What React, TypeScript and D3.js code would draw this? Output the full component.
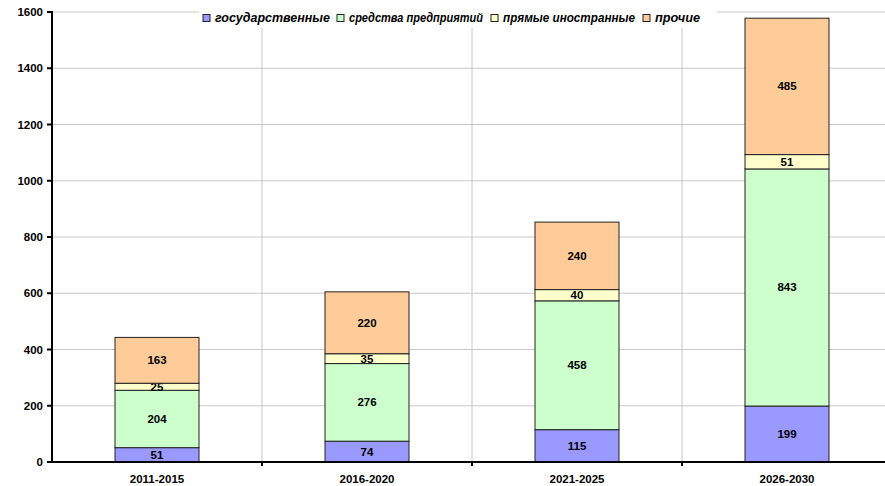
import React from "react";
import * as d3 from "d3";

const categories = ["2011-2015", "2016-2020", "2021-2025", "2026-2030"];
const seriesNames = ["государственные", "средства предприятий", "прямые иностранные", "прочие"];
const gov = [51, 74, 115, 199];
const enterprise = [204, 276, 458, 843];
const foreign = [25, 35, 40, 51];
const other = [163, 220, 240, 485];
const yTicks = [0, 200, 400, 600, 800, 1000, 1200, 1400, 1600];
const colors = ["#9999FF", "#CCFFCC", "#FFFFCC", "#FFCC99"];

export default function App() {
  const W = 885, H = 486;
  const left = 52, right = 892, top = 12, bottom = 462;
  const x = d3.scaleBand<string>().domain(categories).range([left, right]).paddingInner(0.6).paddingOuter(0.3);
  const xb = d3.scaleBand<string>().domain(categories).range([left, right]);
  const y = d3.scaleLinear().domain([0, 1600]).range([bottom, top]);
  const rows = categories.map((c, i) => ({ cat: c, s0: gov[i], s1: enterprise[i], s2: foreign[i], s3: other[i] }));
  const stack = d3.stack<any>().keys(["s0", "s1", "s2", "s3"])(rows);
  const font = "'Liberation Sans', Arial, sans-serif";
  const fs = 11.5;

  const legendItems = [
    { x: 203, tx: 215, w: 115 },
    { x: 337, tx: 349, w: 134 },
    { x: 491, tx: 503, w: 132 },
    { x: 643, tx: 655, w: 45 },
  ];

  return (
    <svg width={W} height={H} style={{ position: "absolute", left: 0, top: 0, background: "#fff" }} fontFamily={font}>
      {yTicks.map((t) => (
        <line key={"h" + t} x1={left} x2={W} y1={y(t)} y2={y(t)} stroke="#c8c8c8" strokeWidth={1} />
      ))}
      {categories.slice(1).map((c) => (
        <line key={"v" + c} x1={xb(c)!} x2={xb(c)!} y1={top} y2={bottom} stroke="#c8c8c8" strokeWidth={1} />
      ))}
      <rect x={199} y={9} width={518} height={19} fill="#fff" />
      {stack.map((layer, li) =>
        layer.map((d, i) => {
          const x0 = x(categories[i])!;
          const y0 = y(d[1]);
          const h = y(d[0]) - y(d[1]);
          const v = d[1] - d[0];
          return (
            <g key={li + "-" + i}>
              <rect x={x0} y={y0} width={x.bandwidth()} height={h} fill={colors[li]} stroke="#222" strokeWidth={1} />
              <text x={x0 + x.bandwidth() / 2} y={y0 + h / 2 + 4} textAnchor="middle" fontSize={fs} fontWeight="bold" fill="#000">
                {v}
              </text>
            </g>
          );
        })
      )}
      <line x1={left} x2={left} y1={top - 1} y2={bottom + 1} stroke="#000" strokeWidth={2} />
      {yTicks.map((t) => (
        <g key={"yt" + t}>
          <line x1={left - 5} x2={left} y1={y(t)} y2={y(t)} stroke="#000" strokeWidth={2} />
          <text x={43} y={y(t) + 4} textAnchor="end" fontSize={fs} fontWeight="bold" fill="#000">
            {t}
          </text>
        </g>
      ))}
      <line x1={left - 5} x2={W} y1={bottom} y2={bottom} stroke="#000" strokeWidth={2} />
      {categories.slice(1).map((c) => (
        <line key={"xt" + c} x1={xb(c)!} x2={xb(c)!} y1={bottom} y2={bottom + 4} stroke="#000" strokeWidth={2} />
      ))}
      {categories.map((c) => (
        <text key={"xl" + c} x={x(c)! + x.bandwidth() / 2} y={483} textAnchor="middle" fontSize={fs} fontWeight="bold" fill="#000">
          {c}
        </text>
      ))}
      {seriesNames.map((n, i) => (
        <g key={"lg" + n}>
          <rect x={legendItems[i].x} y={14.5} width={7} height={7} fill={colors[i]} stroke="#222" strokeWidth={1} />
          <text x={legendItems[i].tx} y={22} fontSize={12} fontWeight="bold" fontStyle="italic" fill="#000"
            textLength={legendItems[i].w} lengthAdjust="spacingAndGlyphs">
            {n}
          </text>
        </g>
      ))}
    </svg>
  );
}
